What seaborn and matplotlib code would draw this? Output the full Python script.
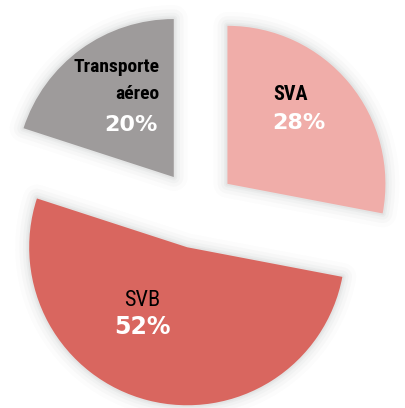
import matplotlib
matplotlib.use("Agg")
import matplotlib.pyplot as plt
import seaborn as sns

sns.set_theme(style="white")

# Shares by segment, drawn clockwise from 12 o'clock
categories = ["SVA", "SVB", "Transporte\naéreo"]
shares = [28, 52, 20]
colors = ["#F0ADA9", "#D9665F", "#9E9B9B"]

fig = plt.figure(figsize=(4.05, 4.08), dpi=100)
fig.patch.set_facecolor("white")
ax = fig.add_axes([0, 0, 1, 1])

explode = [0.25] * len(shares)

# soft shadow under the wedges
for lw, a in [(20, 0.02), (14, 0.03), (9, 0.04), (5, 0.05), (2.5, 0.06)]:
    ax.pie(shares, explode=explode, startangle=90, counterclock=False,
           colors=["none"] * len(shares), radius=1,
           wedgeprops=dict(edgecolor=(0.45, 0.47, 0.47, a), linewidth=lw,
                           joinstyle="round"))

wedges, _ = ax.pie(shares, explode=explode, startangle=90, counterclock=False,
                   colors=colors, radius=1,
                   wedgeprops=dict(edgecolor="none", linewidth=0))

ax.set_aspect("auto")
ax.set_xlim(-197 / 158, 208 / 158)
ax.set_ylim(-199 / 158, 209 / 158)
ax.axis("off")

narrow = ["Roboto Condensed", "Archivo Narrow", "DejaVu Sans"]
heavy = ["DejaVu Sans"]


def px(x, y):
    return x / 405, 1 - y / 408


tf = ax.transAxes
# SVA
ax.text(*px(290, 100), categories[0], transform=tf, ha="center", va="baseline",
        family=narrow, fontweight="bold", fontsize=14.5, color="black")
ax.text(*px(299, 129), f"{shares[0]}%", transform=tf, ha="center", va="baseline",
        family=heavy, fontweight="bold", fontsize=16, color="white")
# SVB
ax.text(*px(142, 306), categories[1], transform=tf, ha="center", va="baseline",
        family=narrow, fontweight="normal", fontsize=16, color="black")
ax.text(*px(142, 334), f"{shares[1]}%", transform=tf, ha="center", va="baseline",
        family=heavy, fontweight="bold", fontsize=17, color="white")
# Transporte aéreo
line1, line2 = categories[2].split("\n")
ax.text(*px(159, 72), line1, transform=tf, ha="right", va="baseline",
        family=narrow, fontweight="bold", fontsize=14, color="black")
ax.text(*px(159, 99), line2, transform=tf, ha="right", va="baseline",
        family=narrow, fontweight="bold", fontsize=14, color="black")
ax.text(*px(158, 131), f"{shares[2]}%", transform=tf, ha="right", va="baseline",
        family=heavy, fontweight="bold", fontsize=16, color="white")

fig.savefig("out.png", dpi=100, facecolor="white")
